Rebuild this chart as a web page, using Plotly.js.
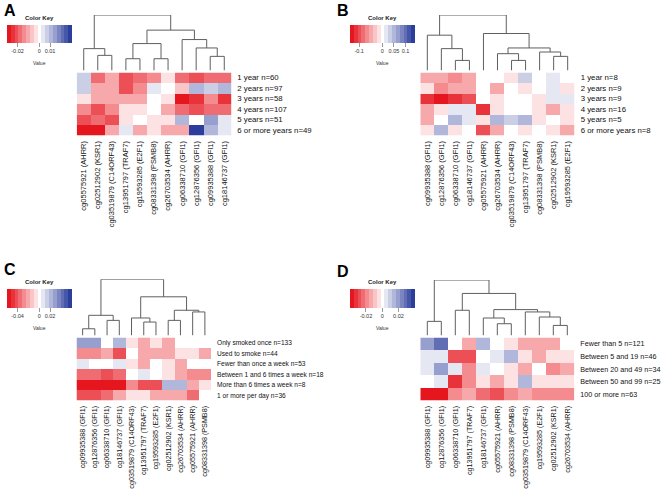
<!DOCTYPE html>
<html><head><meta charset="utf-8">
<script src="https://cdn.plot.ly/plotly-3.0.1.min.js"></script>
<style>html,body{margin:0;padding:0;background:#fff}</style>
</head><body><div id="chart" style="width:666px;height:497px"></div>
<script>
// ---------------- DATA ----------------
const colsA = ["cg05575921 (AHRR)","cg02512902 (KSR1)","cg03519879 (C14ORF43)","cg13951797 (TRAF7)","cg19593285 (E2F1)","cg08331398 (PSMB8)","cg26703534 (AHRR)","cg06338710 (GFI1)","cg12876356 (GFI1)","cg09935388 (GFI1)","cg18146737 (GFI1)"];
const rowsA = ["1 year n=60","2 years n=97","3 years n=58","4 years n=107","5 years n=51","6 or more years n=49"];
const zA = [
  [0.006,-0.018,-0.009,-0.022,-0.018,-0.013,-0.004,-0.018,-0.021,-0.018,-0.018],
  [0.006,-0.012,-0.012,-0.022,-0.013,0.004,0.000,-0.006,0.010,0.006,0.010],
  [-0.004,-0.010,-0.010,-0.010,-0.010,0.000,-0.004,-0.028,-0.025,-0.013,-0.025],
  [-0.013,-0.022,-0.013,-0.004,-0.004,0.000,-0.009,-0.018,-0.021,-0.018,-0.018],
  [-0.022,-0.018,-0.022,-0.004,0.000,-0.003,-0.004,0.009,0.000,0.015,0.004],
  [-0.027,-0.027,-0.009,0.004,-0.009,-0.003,-0.009,-0.009,0.027,0.010,0.004]
];
// merges: [left, right, height]; negative = leaf (1-based), positive = earlier merge (1-based)
const mergesA = [[-2,-3,45],[-1,1,65],[-4,-5,35],[-6,-7,35],[3,4,80],[-10,-11,42],[-9,6,67],[-8,7,92],[5,8,120],[2,9,165]];
const keyTicksA = [-0.02,0,0.01];
const keyTextA = ["-0.02","0","0.01"];
const zLimA = 0.03;

const colsB = ["cg09935388 (GFI1)","cg12876356 (GFI1)","cg06338710 (GFI1)","cg18146737 (GFI1)","cg05575921 (AHRR)","cg26703534 (AHRR)","cg03519879 (C14ORF43)","cg13951797 (TRAF7)","cg08331398 (PSMB8)","cg02512902 (KSR1)","cg19593285 (E2F1)"];
const rowsB = ["1 year n=8","2 years n=9","3 years n=9","4 years n=16","5 years n=5","6 or more years n=8"];
const zB = [
  [-0.049,-0.049,-0.070,-0.049,0,0,-0.021,0.028,0,0.021,0],
  [-0.021,-0.063,-0.049,-0.049,0,-0.049,0,-0.021,0,0.021,-0.021],
  [-0.112,-0.140,-0.112,-0.091,0,-0.021,0,0,-0.021,0.021,0.021],
  [-0.042,-0.021,0.021,0.021,-0.112,-0.021,0,0,-0.021,-0.042,-0.021],
  [-0.042,0,0.042,0.021,-0.021,0.042,0.028,0.049,-0.021,0,-0.021],
  [-0.021,0.049,-0.021,0,-0.098,-0.042,0,-0.021,0,-0.021,-0.042]
];
const mergesB = [[-3,-4,30],[-2,1,65],[-1,2,105],[-7,-8,30],[-6,4,50],[-10,-11,42],[-9,6,55],[5,7,67],[-5,8,110],[3,9,165]];
const keyTicksB = [-0.1,0,0.05,0.1];
const keyTextB = ["-0.1","0","0.05","0.1"];
const zLimB = 0.14;

const colsC = ["cg09935388 (GFI1)","cg12876356 (GFI1)","cg06338710 (GFI1)","cg18146737 (GFI1)","cg03519879 (C14ORF43)","cg13951797 (TRAF7)","cg19593285 (E2F1)","cg02512902 (KSR1)","cg26703534 (AHRR)","cg05575921 (AHRR)","cg08331398 (PSMB8)"];
const rowsC = ["Only smoked once n=133","Used to smoke n=44","Fewer than once a week n=53","Between 1 and 6 times a week n=18","More than 6 times a week n=8","1 or more per day n=36"];
const zC = [
  [0.030,0.030,0,0.021,-0.009,-0.018,-0.009,-0.018,0,0,0],
  [-0.027,-0.027,-0.021,-0.039,0,-0.024,-0.018,-0.018,-0.009,-0.009,-0.018],
  [0.009,0,0,0.009,-0.009,-0.018,0,-0.009,-0.018,0,0],
  [-0.036,-0.036,-0.045,-0.036,0,0.009,0,-0.009,-0.018,-0.027,-0.027],
  [-0.054,-0.054,-0.054,-0.054,-0.027,-0.045,-0.045,0.018,0.018,-0.018,-0.009],
  [-0.042,-0.042,-0.036,-0.018,-0.009,-0.009,-0.018,-0.018,-0.018,-0.036,0]
];
const mergesC = [[-1,-2,20],[-3,-4,45],[1,2,60],[-6,-7,40],[-5,4,52],[-8,-9,45],[-10,-11,70],[6,7,75],[5,8,115],[3,9,167]];
const keyTicksC = [-0.04,0,0.02];
const keyTextC = ["-0.04","0","0.02"];
const zLimC = 0.06;

const colsD = ["cg09935388 (GFI1)","cg12876356 (GFI1)","cg06338710 (GFI1)","cg13951797 (TRAF7)","cg18146737 (GFI1)","cg05575921 (AHRR)","cg08331398 (PSMB8)","cg03519879 (C14ORF43)","cg19593285 (E2F1)","cg02512902 (KSR1)","cg26703534 (AHRR)"];
const rowsD = ["Fewer than 5 n=121","Between 5 and 19 n=46","Between 20 and 49 n=34","Between 50 and 99 n=25","100 or more n=63"];
const zD = [
  [0.020,0.026,0,-0.014,0.012,0,-0.006,-0.014,-0.014,-0.014,0],
  [0.006,0.006,-0.026,-0.030,0,0.006,0.012,-0.006,-0.012,-0.006,-0.006],
  [0.006,0.020,0.006,-0.018,0.006,0,-0.006,-0.012,0,-0.020,-0.012],
  [0,0.006,-0.034,-0.018,-0.006,-0.012,-0.006,0.012,-0.006,-0.006,-0.006],
  [-0.036,-0.036,-0.018,-0.014,-0.024,-0.028,-0.018,-0.014,-0.018,-0.018,-0.018]
];
const mergesD = [[-1,-2,42],[-3,-4,75],[-6,-7,35],[-5,3,52],[-10,-11,30],[-9,5,55],[-8,6,70],[4,7,77],[2,8,125],[1,9,165]];
const keyTicksD = [-0.02,0,0.02];
const keyTextD = ["-0.02","0","0.02"];
const zLimD = 0.04;

// ---------------- STYLE / GEOMETRY ----------------
const W = 666, H = 497;
const FONT = "Liberation Sans, Arial, sans-serif";
const panels = [
  {id:'A', cols:colsA, rows:rowsA, z:zA, merges:mergesA, kt:keyTicksA, ktx:keyTextA, lim:zLimA,
   gx:[76.7,231.3], gy:[72.5,135.5], dy:[15,70.5], kx:[6.7,71.7], ky:[25,43], lx:2, ly:0, rowFont:7.8, colFont:7.5},
  {id:'B', cols:colsB, rows:rowsB, z:zB, merges:mergesB, kt:keyTicksB, ktx:keyTextB, lim:zLimB,
   gx:[420.3,574.7], gy:[72.5,135.5], dy:[15,70.5], kx:[349.7,415], ky:[25,43], lx:335, ly:0, rowFont:7.8, colFont:7.5},
  {id:'C', cols:colsC, rows:rowsC, z:zC, merges:mergesC, kt:keyTicksC, ktx:keyTextC, lim:zLimC,
   gx:[76.5,211], gy:[337.5,400.5], dy:[279.3,335.5], kx:[6.7,71.7], ky:[289,308], lx:2, ly:259, rowFont:6.6, colFont:7.2},
  {id:'D', cols:colsD, rows:rowsD, z:zD, merges:mergesD, kt:keyTicksD, ktx:keyTextD, lim:zLimD,
   gx:[420.3,574.3], gy:[337.5,400.5], dy:[280,335.5], kx:[349.7,414.7], ky:[289,308], lx:335, ly:261, rowFont:7.2, colFont:7.2}
];

// stepped red-white-blue palette (like heatmap.2 bluered breaks)
const RED = [230,22,30], WHITE = [255,255,255], BLUE = [44,62,155];
function mix(a,b,t){return 'rgb('+a.map((v,i)=>Math.round(v+(b[i]-v)*t)).join(',')+')';}
function stepScale(nb){
  const cs=[];
  for(let k=0;k<nb;k++){
    const t=k/(nb-1);
    const c = t<0.5 ? mix(RED,WHITE,t/0.5) : mix(WHITE,BLUE,(t-0.5)/0.5);
    cs.push([k/nb,c]); cs.push([(k+1)/nb,c]);
  }
  return cs;
}
const CSCALE = stepScale(17);

function dendro(merges){
  const pos=[], ht=[], xs=[], ys=[];
  const get = id => id<0 ? [-id-1,0] : [pos[id-1],ht[id-1]];
  merges.forEach(([a,b,h],k)=>{
    const [xa,ha]=get(a), [xb,hb]=get(b);
    xs.push(xa,xa,xb,xb,null); ys.push(ha,h,h,hb,null);
    pos[k]=(xa+xb)/2; ht[k]=h;
  });
  return {xs,ys,top:ht[ht.length-1]};
}

const traces=[], layout={
  width:W, height:H, margin:{l:0,r:0,t:0,b:0}, paper_bgcolor:'#fff', plot_bgcolor:'rgba(0,0,0,0)',
  showlegend:false, font:{family:FONT,color:'#000'}, annotations:[]
};

panels.forEach((p,i)=>{
  const hi=2*i+1, di=2*i+2;
  const hx='x'+(hi===1?'':hi), hy='y'+(hi===1?'':hi), dx='x'+di, dyy='y'+di;
  const n=p.cols.length, m=p.rows.length;
  const idx=p.cols.map((_,j)=>j), ridx=p.rows.map((_,j)=>j);
  const xd=[p.gx[0]/W,p.gx[1]/W];
  traces.push({type:'heatmap', z:p.z, x:idx, y:ridx, xaxis:hx, yaxis:hy, colorscale:CSCALE,
    zmin:-p.lim, zmax:p.lim, hoverinfo:'skip',
    colorbar:{orientation:'h', x:(p.kx[0]+p.kx[1])/2/W, xanchor:'center', y:1-p.ky[0]/H, yanchor:'top',
      len:p.kx[1]-p.kx[0], lenmode:'pixels', thickness:p.ky[1]-p.ky[0], thicknessmode:'pixels',
      tickvals:p.kt, ticktext:p.ktx, tickfont:{size:5.5,family:FONT,color:'#333'}, ticks:'outside', ticklen:4,
      tickwidth:0.6, tickcolor:'#555', outlinewidth:0, xpad:0, ypad:0}
  });
  const hk=(hi===1?'':hi);
  layout['xaxis'+hk]={domain:xd, range:[-0.5,n-0.5], anchor:hy, tickvals:idx, ticktext:p.cols, tickangle:-90,
    showgrid:false, zeroline:false, showline:false, ticks:'', ticklabelstandoff:3,
    tickfont:{size:p.colFont,family:FONT,color:'#111'}, fixedrange:true};
  layout['yaxis'+hk]={domain:[1-p.gy[1]/H,1-p.gy[0]/H], range:[m-0.5,-0.5], anchor:hx, side:'right',
    tickvals:ridx, ticktext:p.rows, showgrid:false, zeroline:false, showline:false, ticks:'', ticklabelstandoff:5,
    tickfont:{size:p.rowFont,family:FONT,color:'#111'}, fixedrange:true};
  const d=dendro(p.merges);
  traces.push({type:'scatter', mode:'lines', x:d.xs, y:d.ys, xaxis:dx, yaxis:dyy, hoverinfo:'skip',
    line:{color:'#5f5f5f', width:1}});
  layout['xaxis'+di]={domain:xd, range:[-0.5,n-0.5], anchor:dyy, visible:false, fixedrange:true};
  layout['yaxis'+di]={domain:[1-p.dy[1]/H,1-p.dy[0]/H], range:[0,d.top], anchor:dx, visible:false, fixedrange:true};
  const kc=(p.kx[0]+p.kx[1])/2/W;
  layout.annotations.push(
    {text:'<b>'+p.id+'</b>', x:p.lx/W, y:1-p.ly/H, xref:'paper', yref:'paper', xanchor:'left', yanchor:'top',
      showarrow:false, font:{size:16,family:FONT,color:'#000'}},
    {text:'<b>Color Key</b>', x:kc, y:1-(p.ky[0]-2)/H, xref:'paper', yref:'paper', xanchor:'center', yanchor:'bottom',
      showarrow:false, font:{size:6,family:FONT,color:'#222'}},
    {text:'Value', x:kc, y:1-(p.ky[1]+15)/H, xref:'paper', yref:'paper', xanchor:'center', yanchor:'top',
      showarrow:false, font:{size:5,family:FONT,color:'#333'}}
  );
});

Plotly.newPlot('chart', traces, layout, {displayModeBar:false, staticPlot:true});
</script></body></html>
